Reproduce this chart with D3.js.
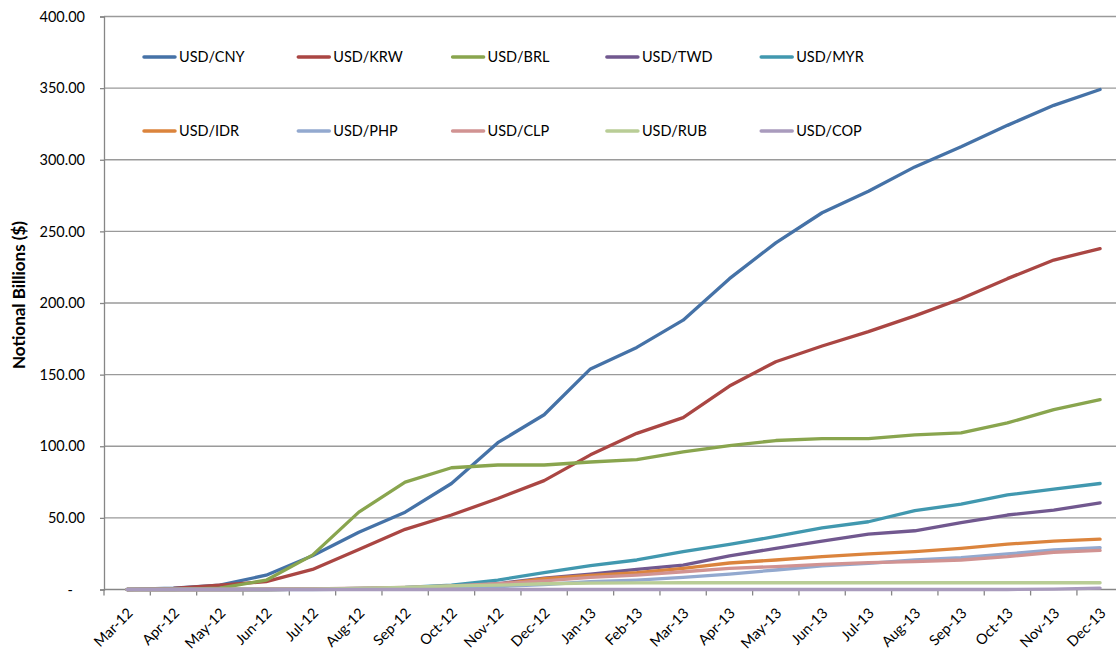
<!DOCTYPE html>
<html><head><meta charset="utf-8">
<script src="https://cdn.jsdelivr.net/npm/d3@7"></script>
<style>
html,body{margin:0;padding:0;background:#fff;overflow:hidden;}
svg{display:block;font-family:Lato,"Open Sans",sans-serif;}
</style></head>
<body><svg id="c" width="1116" height="650"></svg>
<script>
const months = ["Mar-12","Apr-12","May-12","Jun-12","Jul-12","Aug-12","Sep-12","Oct-12","Nov-12","Dec-12","Jan-13","Feb-13","Mar-13","Apr-13","May-13","Jun-13","Jul-13","Aug-13","Sep-13","Oct-13","Nov-13","Dec-13"];
const seriesNames = ["USD/CNY","USD/KRW","USD/BRL","USD/TWD","USD/MYR","USD/IDR","USD/PHP","USD/CLP","USD/RUB","USD/COP"];
const cny = [0,1,3,10,23.5,40,54,74,102.5,122,154,169,188,217,242,263,278,295,309,324,338,349];
const krw = [0,0.7,3,5.5,14,28,42,52,63.5,76,94,109,120,142,159,170,180,191,203,217,230,238];
const brl = [0,0,1,6.5,24,54,75,85,86.9,86.9,89,90.7,96,100.5,104,105.3,105.3,108,109.3,116.3,125.6,132.6];
const twd = [0,0,0,0,0.2,0.5,1,2,4,8,10.8,14,17,23.5,28.7,33.8,38.7,41,46.6,52,55.4,60.5];
const myr = [0,0,0,0,0.3,0.8,1.5,3,6.6,11.7,16.6,20.6,26.4,31.5,37,43,47.3,55,59.6,66,70,74];
const idr = [0,0,0,0,0.2,0.5,1,2,3.5,7.5,9.9,11.7,14.8,18.5,20.6,22.9,24.8,26.4,28.7,31.7,33.8,35.2];
const php = [0,0,0,0,0,0.2,0.5,1,2,3.5,5.4,6.6,8.5,10.8,13.6,16.5,18.3,20.6,22.2,24.8,27.6,29.2];
const clp = [0,0,0,0.2,0.5,1,1.5,2.5,4,6,8.5,10.1,12.4,14.8,16,17.6,18.7,19.4,20.6,22.9,26,27.3];
const rub = [0,0,0,0,0.3,0.8,1.5,2.5,3,4,4.5,4.6,4.7,4.7,4.7,4.7,4.7,4.7,4.7,4.7,4.7,4.7];
const cop = [0,0,0,0,0,0,0,0,0,0,0,0,0,0,0,0,0,0,0,0,0.3,1];
const yTicks = [0,50,100,150,200,250,300,350,400];
const colors = ["#4572A7","#AA4643","#89A54E","#71588F","#4198AF","#DB843D","#93A9CF","#D19392","#B9CD96","#A99BBD"];

const seriesValues = [cny,krw,brl,twd,myr,idr,php,clp,rub,cop];
const series = seriesNames.map((n,i)=>({name:n,values:seriesValues[i],color:colors[i]}));

const svg = d3.select("#c");
const L = 104, T = 16.5, B = 589.5, R = L + 22*46.33;
const x = d3.scaleBand().domain(months).range([L,R]).padding(0);
const cx = d => x(d) + x.bandwidth()/2;
const y = d3.scaleLinear().domain([0,400]).range([B,T]);
const axisColor = "#868686";

// gridlines
svg.append("g").selectAll("line").data(yTicks.filter(t=>t>0)).join("line")
  .attr("x1",L).attr("x2",1116).attr("y1",d=>y(d)).attr("y2",d=>y(d))
  .attr("stroke","#9a9a9a").attr("stroke-width",1.3);

// y axis
const yAxis = d3.axisLeft(y).tickValues(yTicks).tickSize(4).tickPadding(15)
  .tickFormat(d=> d===0 ? "-" : d3.format(".2f")(d));
const gy = svg.append("g").attr("transform",`translate(${L},0)`).call(yAxis);
gy.select(".domain").attr("stroke",axisColor).attr("stroke-width",1.3);
gy.selectAll(".tick line").attr("stroke",axisColor).attr("stroke-width",1.3);
gy.selectAll(".tick text").attr("font-size",14.5).attr("fill","#000").attr("font-family","Lato");
gy.selectAll(".tick text").filter(d=>d===0).attr("dx",-12);

// x axis
const gx = svg.append("g").attr("transform",`translate(0,${B})`);
gx.append("line").attr("x1",L).attr("x2",1116).attr("y1",0).attr("y2",0)
  .attr("stroke",axisColor).attr("stroke-width",1.3);
gx.selectAll("line.tk").data(months).join("line").attr("class","tk")
  .attr("x1",d=>x(d)).attr("x2",d=>x(d)).attr("y1",0).attr("y2",6)
  .attr("stroke",axisColor).attr("stroke-width",1.3);
gx.selectAll("text").data(months).join("text")
  .attr("transform",d=>`translate(${cx(d)+3},${21}) rotate(-45)`)
  .attr("text-anchor","end").attr("dy","0.35em")
  .attr("font-size",14.5).attr("fill","#000").text(d=>d);

// y title
svg.append("text").attr("transform",`translate(25,295) rotate(-90)`)
  .attr("text-anchor","middle").attr("font-weight","bold").attr("font-size",17)
  .attr("fill","#000").text("Notional Billions ($)");

// lines
const line = d3.line().x((d,i)=>cx(months[i])).y(d=>y(d));
svg.append("g").selectAll("path").data(series).join("path")
  .attr("d",d=>line(d.values)).attr("fill","none").attr("stroke",d=>d.color)
  .attr("stroke-width",3.3).attr("stroke-linejoin","round").attr("stroke-linecap","round");

// legend
const lg = svg.append("g");
series.forEach((s,i)=>{
  const col = i%5, row = Math.floor(i/5);
  const lx = 143 + col*154.3, ly = row===0 ? 57 : 131;
  lg.append("line").attr("x1",lx+1).attr("x2",lx+32).attr("y1",ly).attr("y2",ly)
    .attr("stroke",s.color).attr("stroke-width",3.5).attr("stroke-linecap","round");
  lg.append("text").attr("x",lx+36).attr("y",ly).attr("dy","0.35em")
    .attr("font-size",14.5).attr("fill","#000").text(s.name);
});
</script></body></html>
